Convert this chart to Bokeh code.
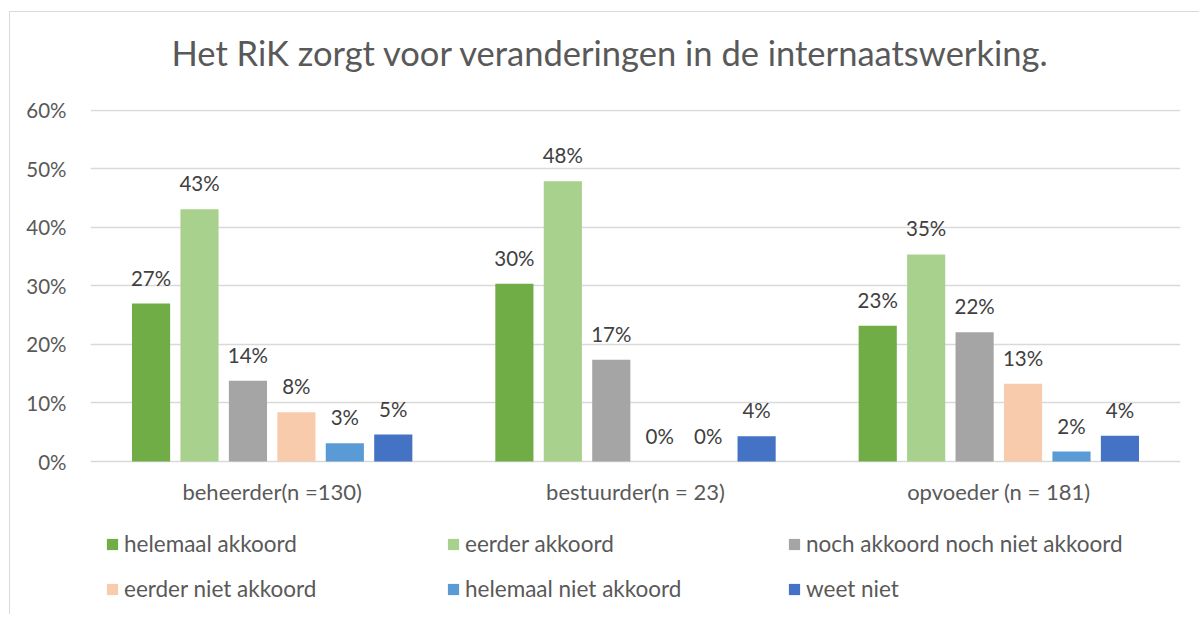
from bokeh.plotting import figure
from bokeh.models import ColumnDataSource, FactorRange, Range1d, Legend, LegendItem, FixedTicker, Title
from bokeh.transform import dodge
from bokeh.core.properties import value
from bokeh.embed import file_html
from bokeh.resources import INLINE

# ---- data ----
groups = ["beheerder(n =130)", "bestuurder(n = 23)", "opvoeder (n = 181)"]
series = ["helemaal akkoord", "eerder akkoord", "noch akkoord noch niet akkoord",
          "eerder niet akkoord", "helemaal niet akkoord", "weet niet"]
colors = ["#70AD47", "#A9D18E", "#A5A5A5", "#F8CBAD", "#5B9BD5", "#4472C4"]

helemaal_akkoord = [27.0, 30.4, 23.2]
eerder_akkoord = [43.1, 47.9, 35.4]
noch_noch = [13.8, 17.4, 22.1]
eerder_niet_akkoord = [8.4, 0.0, 13.3]
helemaal_niet_akkoord = [3.1, 0.0, 1.7]
weet_niet = [4.6, 4.3, 4.4]
series_values = [helemaal_akkoord, eerder_akkoord, noch_noch,
                 eerder_niet_akkoord, helemaal_niet_akkoord, weet_niet]

y_ticks = [0, 10, 20, 30, 40, 50, 60]
y_tick_labels = ["0%", "10%", "20%", "30%", "40%", "50%", "60%"]

title_text = "Het RiK zorgt voor veranderingen in de internaatswerking."

# ---- style / layout ----
FONT = "Lato"
TXT = "#595959"
LBL = "#404040"

Y_TOP = 60.17
BAR_AREA_PX = 352          # pixel height from 0% to top of value range
FRAME_PX = 501             # frame extends down to hold category labels and legend
y_bottom = -(FRAME_PX - BAR_AREA_PX) * Y_TOP / BAR_AREA_PX

p = figure(x_range=FactorRange(*groups, range_padding=0), y_range=Range1d(y_bottom, Y_TOP),
           width=1190, height=603, output_backend="svg", toolbar_location=None,
           title_location=None,
           min_border_left=80, min_border_right=20, min_border_top=97, min_border_bottom=5)
p.styles = {"border-left": "1px solid #D9D9D9", "border-top": "1px solid #D9D9D9",
            "margin-left": "9px", "margin-top": "11px"}

# spacer between plot area and title (keeps the title higher above the bars)
p.add_layout(Title(text=" ", text_font=FONT, text_font_size="29.4px", standoff=0), "above")
p.add_layout(Title(text=title_text, align="left", offset=81, standoff=0,
                   text_font=FONT, text_font_size="34.5px", text_font_style="normal",
                   text_color=TXT), "above")

p.outline_line_color = None
p.xgrid.visible = False
p.xaxis.visible = False
p.ygrid.grid_line_color = "#D9D9D9"
p.ygrid.grid_line_width = 1.5
p.yaxis.ticker = FixedTicker(ticks=y_ticks)
p.ygrid.ticker = FixedTicker(ticks=y_ticks)
p.yaxis.major_label_overrides = {t: l for t, l in zip(y_ticks, y_tick_labels)}
p.yaxis.axis_line_color = None
p.yaxis.major_tick_line_color = None
p.yaxis.minor_tick_line_color = None
p.yaxis.major_label_text_font = FONT
p.yaxis.major_label_text_color = TXT
p.yaxis.major_label_text_font_size = "20.5px"
p.yaxis.major_label_standoff = 18

# category labels under the bars (positioned by the category scale at y = 0)
cat_src = ColumnDataSource(dict(x=groups, y=[0] * len(groups)))
p.text(x="x", y="y", text="x", source=cat_src, text_align="center", text_baseline="middle",
       y_offset=30, text_font=value(FONT), text_font_size="22px", text_color=TXT)

n = len(series)
step = 2 / 15
width = 0.105
items = []
for i, (name, vals, col) in enumerate(zip(series, series_values, colors)):
    src = ColumnDataSource(dict(x=groups, top=vals, label=[f"{round(v):.0f}%" for v in vals]))
    off = (i - (n - 1) / 2) * step
    r = p.vbar(x=dodge("x", off, range=p.x_range), top="top", width=width, bottom=0,
               source=src, fill_color=col, line_color=None)
    p.text(x=dodge("x", off, range=p.x_range), y="top", text="label", source=src,
           text_align="center", text_baseline="alphabetic", y_offset=-26,
           text_font=value(FONT), text_font_size="20.5px", text_color=LBL)
    items.append(LegendItem(label=name, renderers=[r]))

legend = Legend(items=items, ncols=3, location=(15, 8),
                orientation="horizontal",
                label_text_font=FONT, label_text_font_size="22.5px", label_text_color=TXT,
                glyph_width=14, glyph_height=14, label_standoff=5, label_width=304,
                label_height=20, spacing=18, padding=0, margin=0,
                border_line_color=None, background_fill_alpha=0)
p.add_layout(legend)

open("out.html", "w").write(file_html(p, INLINE))
